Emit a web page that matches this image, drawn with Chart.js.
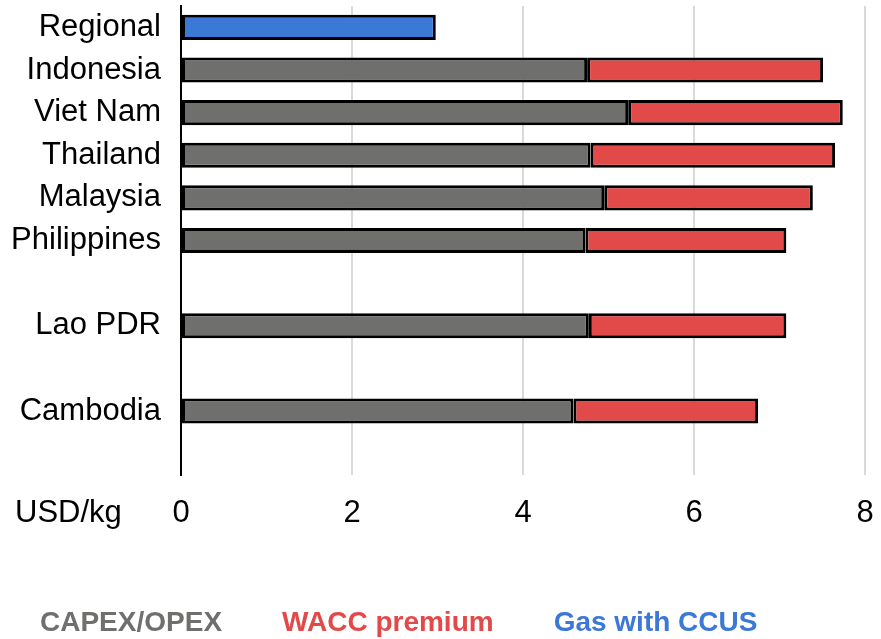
<!DOCTYPE html>
<html>
<head>
<meta charset="utf-8">
<title>Hydrogen production cost</title>
<script src="https://cdn.jsdelivr.net/npm/chart.js@4.4.1/dist/chart.umd.min.js"></script>
<style>
  html, body { margin: 0; padding: 0; background: #ffffff; }
  #wrap { width: 881px; height: 639px; position: relative; }
</style>
</head>
<body>
<div id="wrap"><canvas id="chart" width="881" height="639"></canvas></div>
<script>
// Cost of hydrogen by country, USD/kg
const categories = ['Regional', 'Indonesia', 'Viet Nam', 'Thailand', 'Malaysia', 'Philippines', '', 'Lao PDR', '', 'Cambodia', ''];
const capexOpex   = [null, 4.75, 5.23, 4.79, 4.95, 4.73, null, 4.77, null, 4.59, null];
const waccPremium = [null, 2.76, 2.51, 2.86, 2.44, 2.35, null, 2.31, null, 2.16, null];
const gasCcus     = [2.98, null, null, null, null, null, null, null, null, null, null];
const xTicks = [0, 2, 4, 6, 8];
const unitLabel = 'USD/kg';

const FONT = '"Liberation Sans", Arial, sans-serif';
const GREY = '#6f706e';
const RED = '#e24a4a';
const BLUE = '#3c78d5';

// Unit label on the tick row, left of the axis
const unitPlugin = {
  id: 'unitLabel',
  afterDraw(chart) {
    const ctx = chart.ctx;
    const x = chart.scales.x;
    ctx.save();
    ctx.font = '31px ' + FONT;
    ctx.fillStyle = '#000000';
    ctx.textAlign = 'left';
    ctx.textBaseline = 'middle';
    ctx.fillText(unitLabel, 15, x.top + 20 + 31 * 0.6);
    ctx.restore();
  }
};

// Text-only legend in the series colours
const textLegend = {
  id: 'textLegend',
  afterDraw(chart) {
    const ctx = chart.ctx;
    ctx.save();
    ctx.font = 'bold 28px ' + FONT;
    ctx.textAlign = 'left';
    ctx.textBaseline = 'middle';
    let x = 40;
    chart.data.datasets.forEach(ds => {
      ctx.fillStyle = ds.backgroundColor;
      ctx.fillText(ds.label, x, 623);
      x += ctx.measureText(ds.label).width + 60;
    });
    ctx.restore();
  }
};

new Chart(document.getElementById('chart'), {
  type: 'bar',
  data: {
    labels: categories,
    datasets: [
      { label: 'CAPEX/OPEX', data: capexOpex, backgroundColor: GREY },
      { label: 'WACC premium', data: waccPremium, backgroundColor: RED },
      { label: 'Gas with CCUS', data: gasCcus, backgroundColor: BLUE }
    ]
  },
  options: {
    indexAxis: 'y',
    responsive: false,
    animation: false,
    devicePixelRatio: 1,
    layout: { padding: { top: 6, right: 16, left: 0, bottom: 0 } },
    datasets: {
      bar: {
        borderColor: '#000000',
        borderWidth: 3,
        borderSkipped: false,
        barPercentage: 0.59,
        categoryPercentage: 1.0
      }
    },
    plugins: {
      legend: { display: false },
      tooltip: { enabled: false }
    },
    scales: {
      x: {
        stacked: true,
        min: 0,
        max: 8,
        afterBuildTicks(scale) { scale.ticks = xTicks.map(v => ({ value: v })); },
        afterFit(scale) {
          scale.height = 164;
          scale.paddingLeft = 0;
          scale.paddingRight = 0;
        },
        grid: {
          drawTicks: false,
          lineWidth: 2,
          color: ctx => (ctx.tick && ctx.tick.value === 0) ? 'rgba(0,0,0,0)' : '#d9d9d9'
        },
        border: { display: false },
        ticks: {
          padding: 20,
          color: '#000000',
          font: { family: FONT, size: 31 }
        }
      },
      y: {
        stacked: true,
        afterFit(scale) {
          scale.width = 181;
          scale.paddingTop = 0;
          scale.paddingBottom = 0;
        },
        grid: { display: false, drawTicks: false },
        border: { display: true, color: '#000000', width: 2 },
        ticks: {
          padding: 20,
          color: '#000000',
          autoSkip: false,
          font: { family: FONT, size: 31 }
        }
      }
    }
  },
  plugins: [unitPlugin, textLegend]
});
</script>
</body>
</html>
